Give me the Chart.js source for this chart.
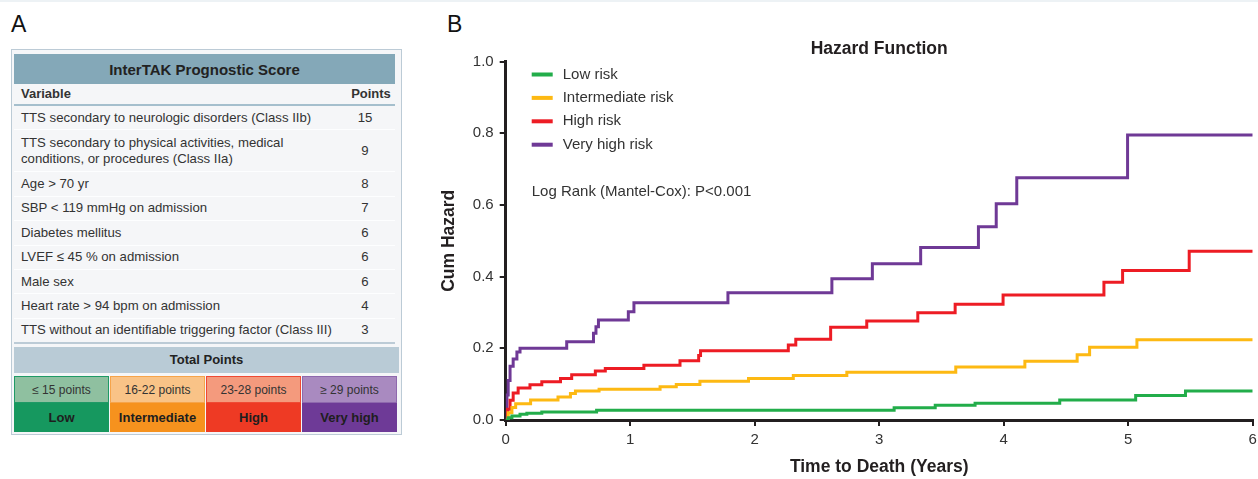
<!DOCTYPE html>
<html>
<head>
<meta charset="utf-8">
<script src="https://cdn.jsdelivr.net/npm/chart.js@4.4.1/dist/chart.umd.min.js"></script>
<style>
  body { margin: 0; width: 1258px; height: 479px; background: #fff; font-family: "Liberation Sans", Arial, sans-serif; color: #2b2b2b; position: relative; overflow: hidden; }
  #topline { position: absolute; left: 0; top: 0; width: 1258px; height: 2px; background: #edf2f5; }
  .plabel { position: absolute; font-size: 23px; line-height: 1; color: #111; }
  #panelA { position: absolute; left: 11px; top: 49px; width: 385px; height: 378px; border: 1px solid #bccbd6; background: #f5f6f8; padding: 4px 2px 2px 2px; }
  #panelA table { width: 381px; border-collapse: collapse; table-layout: fixed; font-size: 13.2px; }
  #panelA th.head { background: #84a8b8; height: 30px; font-size: 15px; font-weight: bold; color: #222; text-align: center; padding: 0; }
  #panelA tr.cols td { font-weight: bold; font-size: 13px; height: 20px; padding: 0 0 0 7px; border-bottom: 2px solid #a5bfcd; vertical-align: middle; }
  #panelA td { padding: 0 0 0 7px; height: 23.4px; border-bottom: 1px solid #fdfeff; line-height: 16px; color: #333; white-space: nowrap; }
  #panelA td.pts { text-align: center; padding: 0; }
  #panelA tr.last td { border-bottom: 2px solid #bccbd6; }
  #total { margin-top: 3px; background: #b9cbd6; height: 26px; line-height: 26px; text-align: center; font-weight: bold; font-size: 13px; color: #222; }
  #cells { display: flex; gap: 1px; margin-top: 3px; }
  .cell { width: 95px; }
  .cell .t { height: 27px; line-height: 27px; text-align: center; font-size: 12px; color: #333; border: 1px solid; box-sizing: border-box; }
  .cell .b { height: 29px; line-height: 29px; text-align: center; font-size: 13px; font-weight: bold; color: #1e1e1e; }
  #chartWrap { position: absolute; left: 430px; top: 30px; width: 828px; height: 449px; }
</style>
</head>
<body>
<div id="topline"></div>
<div class="plabel" style="left:11px;top:13px;">A</div>
<div class="plabel" style="left:447px;top:13px;">B</div>

<div id="panelA">
  <table>
    <colgroup><col style="width:321px"><col style="width:60px"></colgroup>
    <tr><th class="head" colspan="2">InterTAK Prognostic Score</th></tr>
    <tr class="cols"><td>Variable</td><td class="pts" style="font-weight:bold;padding-left:12px">Points</td></tr>
    <tr><td>TTS secondary to neurologic disorders (Class IIb)</td><td class="pts">15</td></tr>
    <tr><td style="height:41px">TTS secondary to physical activities, medical<br>conditions, or procedures (Class IIa)</td><td class="pts">9</td></tr>
    <tr><td>Age &gt; 70 yr</td><td class="pts">8</td></tr>
    <tr><td>SBP &lt; 119 mmHg on admission</td><td class="pts">7</td></tr>
    <tr><td>Diabetes mellitus</td><td class="pts">6</td></tr>
    <tr><td>LVEF ≤ 45 % on admission</td><td class="pts">6</td></tr>
    <tr><td>Male sex</td><td class="pts">6</td></tr>
    <tr><td>Heart rate &gt; 94 bpm on admission</td><td class="pts">4</td></tr>
    <tr class="last"><td>TTS without an identifiable triggering factor (Class III)</td><td class="pts">3</td></tr>
  </table>
  <div id="total">Total Points</div>
  <div id="cells">
    <div class="cell"><div class="t" style="background:#8fc0a0;border-color:#1f9a66">≤ 15 points</div><div class="b" style="background:#16985f">Low</div></div>
    <div class="cell"><div class="t" style="background:#f9c387;border-color:#f6a44a">16-22 points</div><div class="b" style="background:#f6921e">Intermediate</div></div>
    <div class="cell"><div class="t" style="background:#f49a7d;border-color:#ef4a34">23-28 points</div><div class="b" style="background:#ee3a24">High</div></div>
    <div class="cell"><div class="t" style="background:#a98ac0;border-color:#8e68ad">≥ 29 points</div><div class="b" style="background:#6e3a97">Very high</div></div>
  </div>
</div>

<div id="chartWrap"><canvas id="hazard" width="828" height="449"></canvas></div>

<script>
const groupLabels = ['Low risk', 'Intermediate risk', 'High risk', 'Very high risk'];
const groupColors = ['#22ad4a', '#fdb913', '#ed1c24', '#6f3996'];

// time (years) where each step happens, and the cumulative hazard after it
const lowT  = [0, 0.02, 0.05, 0.115, 0.17, 0.29, 0.73, 3.12, 3.45, 3.77, 4.45, 5.06, 5.46, 6];
const lowH  = [0, 0.006, 0.011, 0.016, 0.019, 0.022, 0.027, 0.034, 0.041, 0.047, 0.056, 0.068, 0.081, 0.081];
const interT = [0, 0.02, 0.05, 0.08, 0.2, 0.42, 0.52, 0.56, 0.75, 1.24, 1.37, 1.56, 1.95, 2.31, 2.74, 3.615, 4.17, 4.59, 4.69, 5.07, 6];
const interH = [0, 0.02, 0.035, 0.045, 0.056, 0.064, 0.074, 0.081, 0.086, 0.093, 0.099, 0.108, 0.116, 0.124, 0.133, 0.148, 0.164, 0.182, 0.203, 0.224, 0.224];
const highT = [0, 0.015, 0.035, 0.06, 0.1, 0.195, 0.29, 0.44, 0.53, 0.72, 0.8, 1.11, 1.4, 1.55, 1.565, 2.27, 2.33, 2.61, 2.9, 3.31, 3.61, 3.995, 4.805, 4.955, 5.49, 6];
const highH = [0, 0.03, 0.055, 0.075, 0.089, 0.098, 0.107, 0.116, 0.126, 0.137, 0.144, 0.153, 0.165, 0.18, 0.193, 0.209, 0.225, 0.259, 0.276, 0.299, 0.323, 0.349, 0.384, 0.417, 0.471, 0.471];
const vhighT = [0, 0.01, 0.02, 0.035, 0.06, 0.09, 0.115, 0.49, 0.705, 0.725, 0.745, 0.985, 1.03, 1.785, 2.62, 2.945, 3.333, 3.797, 3.94, 4.105, 4.995, 6];
const vhighH = [0, 0.07, 0.11, 0.15, 0.17, 0.19, 0.2, 0.218, 0.242, 0.26, 0.279, 0.302, 0.327, 0.355, 0.394, 0.436, 0.481, 0.539, 0.603, 0.676, 0.795, 0.795];

const xTicks = [0, 1, 2, 3, 4, 5, 6];
const yTicks = [0, 0.2, 0.4, 0.6, 0.8, 1.0];
const chartTitle = 'Hazard Function';
const pValueText = 'Log Rank (Mantel-Cox): P<0.001';

const seriesT = [lowT, interT, highT, vhighT];
const seriesH = [lowH, interH, highH, vhighH];

const ink = '#231f20';
const font = '"Liberation Sans", Arial, sans-serif';

// title centred over the plot area, legend + log rank note inside top-left
const overlay = {
  id: 'overlay',
  afterDraw(chart) {
    const ctx = chart.ctx, a = chart.chartArea;
    ctx.save();
    ctx.textBaseline = 'middle';
    ctx.fillStyle = ink;
    ctx.font = 'bold 17.5px ' + font;
    ctx.textAlign = 'center';
    ctx.fillText(chartTitle, (a.left + a.right) / 2, 19.5);
    ctx.textAlign = 'left';
    ctx.font = '15px ' + font;
    chart.data.datasets.forEach((ds, i) => {
      const y = a.top + 13 + i * 23.4;
      ctx.fillStyle = ds.borderColor;
      ctx.fillRect(a.left + 26, y - 2, 21, 4);
      ctx.fillStyle = '#333';
      ctx.fillText(ds.label, a.left + 57, y);
    });
    ctx.fillText(pValueText, a.left + 26, a.top + 130.5);
    ctx.restore();
  }
};

new Chart(document.getElementById('hazard'), {
  type: 'line',
  data: {
    datasets: groupLabels.map((lab, i) => ({
      label: lab,
      data: seriesT[i].map((t, k) => ({ x: t, y: seriesH[i][k] })),
      borderColor: groupColors[i],
      backgroundColor: groupColors[i],
      borderWidth: 3,
      stepped: 'before',
      pointRadius: 0,
      fill: false
    }))
  },
  options: {
    responsive: false,
    animation: false,
    devicePixelRatio: 1,
    layout: { padding: { left: 4, right: 5.3, bottom: 0, top: 31.5 } },
    plugins: {
      legend: { display: false },
      tooltip: { enabled: false },
      title: { display: false }
    },
    scales: {
      x: {
        type: 'linear', min: 0, max: 6,
        afterBuildTicks: s => { s.ticks = xTicks.map(v => ({ value: v })); },
        afterFit: s => { s.height = 59; s.paddingRight = 0; s.paddingLeft = 0; },
        ticks: { color: '#333', font: { family: font, size: 15 }, padding: 5, maxRotation: 0 },
        grid: { drawOnChartArea: false, drawTicks: true, tickLength: 6, color: ink, lineWidth: 2 },
        border: { display: true, color: ink, width: 3 },
        title: { display: true, text: 'Time to Death (Years)', color: ink, font: { family: font, size: 17.5, weight: 'bold' }, padding: { top: 7.5, bottom: 1.5 } }
      },
      y: {
        min: 0, max: 1,
        afterBuildTicks: s => { s.ticks = yTicks.map(v => ({ value: v })); },
        afterFit: s => { s.width = 71.7; },
        ticks: { color: '#333', font: { family: font, size: 15 }, padding: 6, callback: v => v.toFixed(1) },
        grid: { drawOnChartArea: false, drawTicks: true, tickLength: 6, color: ink, lineWidth: 2 },
        border: { display: true, color: ink, width: 3 },
        title: { display: true, text: 'Cum Hazard', color: ink, font: { family: font, size: 17.5, weight: 'bold' }, padding: { top: 4.5, bottom: 22 } }
      }
    }
  },
  plugins: [overlay]
});
</script>
</body>
</html>
